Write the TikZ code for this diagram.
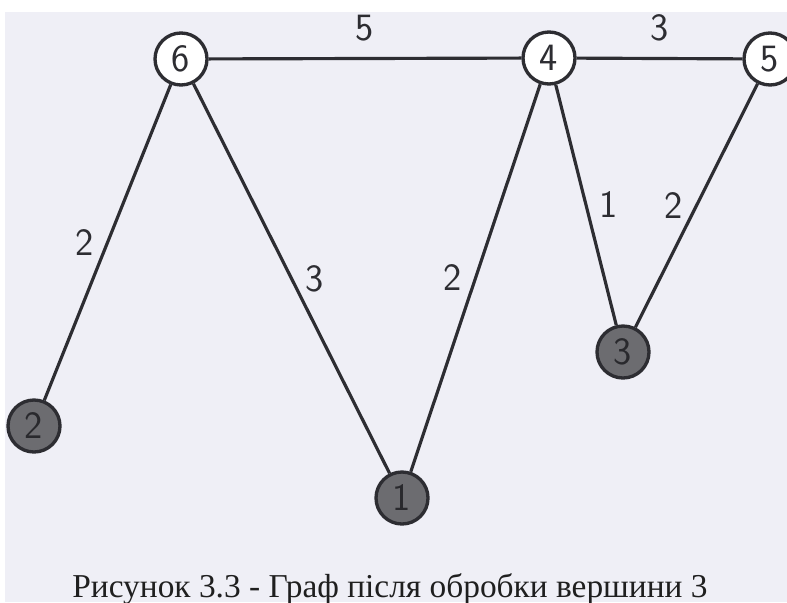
\documentclass[tikz,border=0pt]{standalone}
\usepackage{fontspec}
\setmainfont{Liberation Serif}
\usepackage{tikz}
\usetikzlibrary{positioning}

\definecolor{paper}{RGB}{239,239,246}
\definecolor{ink}{RGB}{45,45,50}
\definecolor{done}{RGB}{108,108,112}

\tikzset{
  vert/.style={circle, draw=ink, line width=1.9pt, minimum size=1.04cm, inner sep=0pt,
    fill=white, text=ink, font=\sffamily\fontsize{22}{24}\selectfont},
  vdone/.style={vert, fill=done, text=ink!90!black},
  edge/.style={draw=ink, line width=1.8pt},
  wlabel/.style={text=ink, font=\sffamily\fontsize{22}{24}\selectfont, inner sep=7pt}
}

\begin{document}
\begin{tikzpicture}

  % cornice della pagina
  \useasboundingbox (0,0) rectangle (15.74,-12.04);
  \fill[white] (0,0) rectangle (15.74,-12.04);
  \fill[paper] (0.1,-0.24) rectangle (15.74,-12.04);

  % vertici
  \node[vert]  (v6) at (3.62,-1.18)  {6};
  \node[vert]  (v4) at (10.98,-1.16) {4};
  \node[vert]  (v5) at (15.40,-1.18) {5};
  \node[vdone] (v2) at (0.68,-8.52)  {2};
  \node[vdone] (v1) at (8.04,-9.96)  {1};
  \node[vdone] (v3) at (12.46,-7.04) {3};

  % archi con pesi
  \draw[edge] (v6) -- node[wlabel, above=2pt] {5} (v4);
  \draw[edge] (v4) -- node[wlabel, above=2pt] {3} (v5);
  \draw[edge] (v6) -- node[wlabel, left]  {2} (v2);
  \draw[edge] (v6) -- node[wlabel, right] {3} (v1);
  \draw[edge] (v4) -- node[wlabel, left]  {2} (v1);
  \draw[edge] (v4) -- node[wlabel, right] {1} (v3);
  \draw[edge] (v5) -- node[wlabel, left]  {2} (v3);

  % didascalia
  \node[anchor=base, text=black!88, font=\fontsize{19}{22}\selectfont] (cap) at (7.8,-11.94)
    {Рисунок 3.3 - Граф після обробки вершини 3};

\end{tikzpicture}
\end{document}
